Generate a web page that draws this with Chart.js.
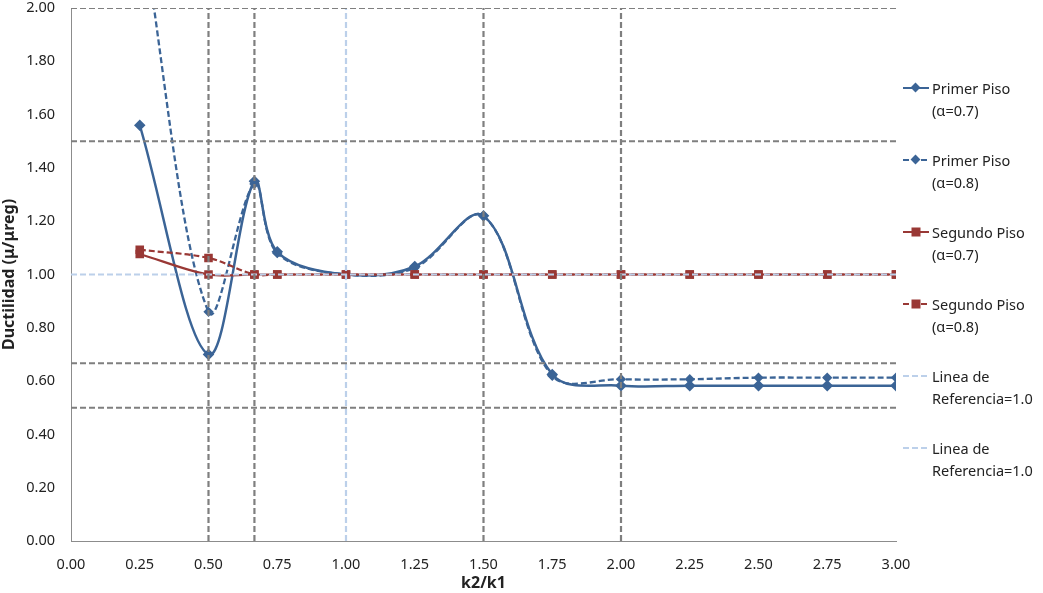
<!DOCTYPE html>
<html lang="es">
<head>
  <meta charset="UTF-8">
  <title>Ductilidad vs k2/k1</title>
  <script src="https://cdn.jsdelivr.net/npm/chart.js"></script>
  <style>
    * { margin: 0; padding: 0; box-sizing: border-box; }
    body { background: #fff; font-family: 'Noto Sans', sans-serif; }
    #wrap { position: relative; width: 1043px; height: 593px; }
    #legend { position: absolute; left: 903px; top: 77px; }
    .item { display: flex; align-items: flex-start; height: 72px; font-size: 14.5px; line-height: 22px; color: #222; }
    .item svg { flex: none; margin-top: 5px; margin-right: 3px; }
  </style>
</head>
<body>
<div id="wrap">
  <canvas id="chart" width="1043" height="593"></canvas>
  <div id="legend"></div>
</div>

<script>
// valores
const k = [0.25, 0.5, 0.667, 0.75, 1.0, 1.25, 1.5, 1.75, 2.0, 2.25, 2.5, 2.75, 3.0];
const primer07 = [1.56, 0.70, 1.35, 1.085, 1.00, 1.03, 1.22, 0.625, 0.583, 0.583, 0.583, 0.583, 0.583];
const primer08 = [2.35, 0.86, 1.34, 1.08, 1.00, 1.025, 1.22, 0.62, 0.607, 0.607, 0.613, 0.613, 0.613];
const segundo07 = [1.077, 1.00, 1.00, 1.00, 1.00, 1.00, 1.00, 1.00, 1.00, 1.00, 1.00, 1.00, 1.00];
const segundo08 = [1.093, 1.062, 1.00, 1.00, 1.00, 1.00, 1.00, 1.00, 1.00, 1.00, 1.00, 1.00, 1.00];

const refValue = 1.0;
const vGuides = [0.5, 0.667, 1.5, 2.0];
const hGuides = [2.0, 1.5, 0.667, 0.5];
const xMin = 0, xMax = 3, yMin = 0, yMax = 2;

const BLUE = '#3b6496';
const RED = '#993835';
const GRAY = '#7f7f7f';
const LIGHT = '#bcd0ea';

const pts = ys => k.map((x, i) => ({ x, y: ys[i] }));

const series = [
  { label: ['Primer Piso', '(α=0.7)'], data: pts(primer07), borderColor: BLUE, backgroundColor: BLUE,
    borderWidth: 2.5, pointStyle: 'rectRot', pointRadius: 4, tension: 0.35, order: 5 },
  { label: ['Primer Piso', '(α=0.8)'], data: pts(primer08), borderColor: BLUE, backgroundColor: BLUE,
    borderWidth: 2.3, borderDash: [6, 3], pointStyle: 'rectRot', pointRadius: 3.5, tension: 0.35, order: 4 },
  { label: ['Segundo Piso', '(α=0.7)'], data: pts(segundo07), borderColor: RED, backgroundColor: RED,
    borderWidth: 2.2, pointStyle: 'rect', pointRadius: 4.5, tension: 0.35, order: 3 },
  { label: ['Segundo Piso', '(α=0.8)'], data: pts(segundo08), borderColor: RED, backgroundColor: RED,
    borderWidth: 2.2, borderDash: [6, 3], pointStyle: 'rect', pointRadius: 4.5, tension: 0.35, order: 2 },
  { label: ['Linea de', 'Referencia=1.0'], data: [{ x: xMin, y: refValue }, { x: xMax, y: refValue }],
    borderColor: LIGHT, borderWidth: 2.2, borderDash: [6, 3], pointRadius: 0, order: 1 },
  { label: ['Linea de', 'Referencia=1.0'], data: [{ x: refValue, y: yMin }, { x: refValue, y: yMax }],
    borderColor: LIGHT, borderWidth: 2.2, borderDash: [6, 3], pointRadius: 0, order: 1 }
];

const guides = [
  ...vGuides.map(v => ({ data: [{ x: v, y: yMin }, { x: v, y: yMax }] })),
  ...hGuides.map(h => ({ data: [{ x: xMin, y: h }, { x: xMax, y: h }] }))
].map(g => Object.assign(g, { label: 'guia', borderColor: GRAY, borderWidth: 2.2, borderDash: [6, 3], pointRadius: 0, order: 0 }));

Chart.defaults.font.family = "'Noto Sans', sans-serif";
Chart.defaults.color = '#222';

new Chart(document.getElementById('chart'), {
  type: 'line',
  data: { datasets: [...series, ...guides] },
  options: {
    responsive: false,
    animation: false,
    layout: { padding: { left: 0, right: 147, top: 8, bottom: 0 } },
    elements: { line: { capBezierPoints: false, fill: false } },
    plugins: { legend: { display: false }, tooltip: { enabled: false } },
    scales: {
      x: {
        type: 'linear', min: xMin, max: xMax,
        grid: { display: false },
        border: { color: '#8c8c8c', width: 1 },
        ticks: { stepSize: 0.25, padding: 7, font: { size: 14.5 }, callback: v => v.toFixed(2) },
        title: { display: true, text: 'k2/k1', font: { size: 16, weight: 'bold' }, padding: { top: 0, bottom: 0 } },
        afterFit: s => { s.height = 52; s.paddingLeft = 0; s.paddingRight = 0; }
      },
      y: {
        min: yMin, max: yMax,
        grid: { display: false },
        border: { color: '#8c8c8c', width: 1 },
        ticks: { stepSize: 0.2, padding: 8, font: { size: 14.5 }, callback: v => v.toFixed(2) },
        title: { display: true, text: 'Ductilidad (μ/μreg)', font: { size: 16, weight: 'bold' }, padding: { top: 0, bottom: 0 } },
        afterFit: s => { s.width = 71; s.paddingTop = 0; s.paddingBottom = 0; }
      }
    }
  }
});

// leyenda a la derecha, con texto en dos lineas
const legend = document.getElementById('legend');
series.forEach(ds => {
  const dash = ds.borderDash ? ds.borderDash.join(',') : 'none';
  let marker = '';
  if (ds.pointRadius && ds.pointStyle === 'rectRot') marker = '<rect x="9" y="2" width="7" height="7" transform="rotate(45 12.5 5.5)" fill="' + ds.backgroundColor + '"/>';
  if (ds.pointRadius && ds.pointStyle === 'rect') marker = '<rect x="8.5" y="1.5" width="9" height="9" fill="' + ds.backgroundColor + '"/>';
  const item = document.createElement('div');
  item.className = 'item';
  item.innerHTML = '<svg width="26" height="12"><line x1="0" y1="6" x2="26" y2="6" stroke="' + ds.borderColor +
    '" stroke-width="2" stroke-dasharray="' + dash + '"/>' + marker + '</svg><div>' + ds.label.join('<br>') + '</div>';
  legend.appendChild(item);
});
</script>
</body>
</html>
